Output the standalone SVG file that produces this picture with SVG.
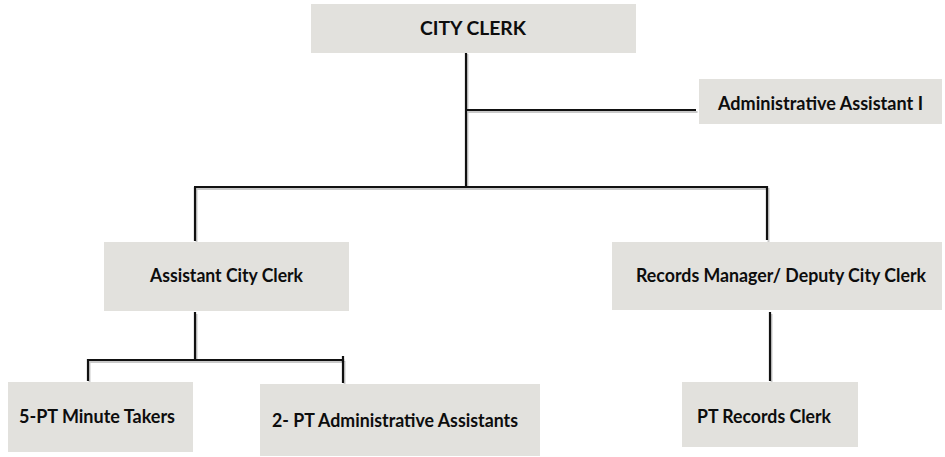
<svg xmlns="http://www.w3.org/2000/svg" width="945" height="457" viewBox="0 0 945 457">
  <style>
    .box { fill: #e2e1dd; }
    .lbl { font-family: Lato, "Liberation Sans", Arial, sans-serif; font-weight: bold; font-size: 19px; fill: #0d0d0d; }
    .wire { fill: none; stroke: #111; stroke-width: 2.2; stroke-linecap: butt; }
    .shade { fill: none; stroke: #c9c9c9; stroke-width: 2; }
  </style>
  <rect width="945" height="457" fill="#ffffff"/>

  <!-- connectors: soft shade lines first, then the black lines -->
  <g id="connectors">
    <g class="shade" transform="translate(1.5,2)">
      <path d="M466 52 V187"/>
      <path d="M466 110 H696"/>
      <path d="M194 187 H767 V240"/>
      <path d="M195 187 V241"/>
      <path d="M195 312 V360"/>
      <path d="M88 381 V360 H343 V383"/>
      <path d="M770 312 V381"/>
    </g>
    <g class="wire">
      <path d="M466 52 V187"/>
      <path d="M466 110 H696"/>
      <path d="M194 187 H767 V240"/>
      <path d="M195 187 V241"/>
      <path d="M195 312 V360"/>
      <path d="M88 381 V360 H343 V383"/>
      <path d="M343 356 V362"/>
      <path d="M770 312 V381"/>
    </g>
  </g>

  <g id="city-clerk">
    <rect class="box" x="311" y="4" width="325" height="49"/>
    <text class="lbl" x="420" y="35" textLength="106" lengthAdjust="spacingAndGlyphs">CITY CLERK</text>
  </g>

  <g id="admin-assistant">
    <rect class="box" x="699" y="79" width="243" height="45"/>
    <text class="lbl" x="718" y="110" textLength="205" lengthAdjust="spacingAndGlyphs">Administrative Assistant I</text>
  </g>

  <g id="assistant-city-clerk">
    <rect class="box" x="104" y="242" width="245" height="69"/>
    <text class="lbl" x="150" y="282" textLength="153" lengthAdjust="spacingAndGlyphs">Assistant City Clerk</text>
  </g>

  <g id="records-manager">
    <rect class="box" x="612" y="242" width="330" height="68"/>
    <text class="lbl" x="636" y="282" textLength="290" lengthAdjust="spacingAndGlyphs">Records Manager/ Deputy City Clerk</text>
  </g>

  <g id="minute-takers">
    <rect class="box" x="8" y="382" width="185" height="70"/>
    <text class="lbl" x="19" y="423" textLength="156" lengthAdjust="spacingAndGlyphs">5-PT Minute Takers</text>
  </g>

  <g id="pt-admin-assistants">
    <rect class="box" x="260" y="384" width="280" height="72"/>
    <text class="lbl" x="272" y="427" textLength="246" lengthAdjust="spacingAndGlyphs">2- PT Administrative Assistants</text>
  </g>

  <g id="pt-records-clerk">
    <rect class="box" x="682" y="382" width="176" height="65"/>
    <text class="lbl" x="697" y="423" textLength="134" lengthAdjust="spacingAndGlyphs">PT Records Clerk</text>
  </g>
</svg>
